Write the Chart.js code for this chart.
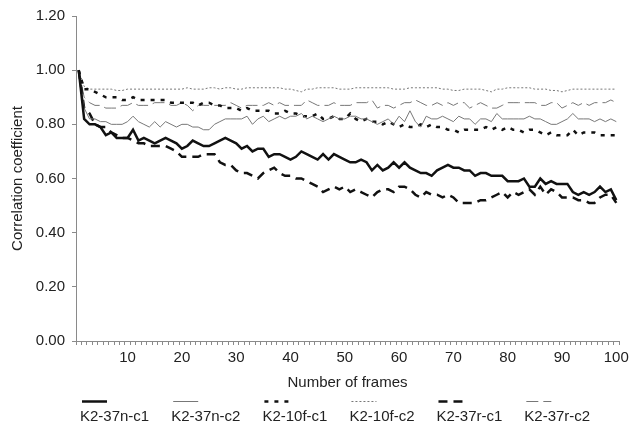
<!doctype html>
<html>
<head>
    <meta charset="UTF-8"/>
    <title>Correlation coefficient</title>
    <script src="https://cdn.jsdelivr.net/npm/chart.js@4.4.1/dist/chart.umd.min.js"></script>
</head>
<body style="margin: 0;">
<canvas id="myChart" width="640" height="427"></canvas>

<script>
    // frames 1..100
    const frames = Array.from({length: 100}, (v, i) => String(i + 1));

    const k2_37n_c1 = [1.00, 0.82, 0.80, 0.80, 0.79, 0.76, 0.77, 0.75, 0.75, 0.75,
        0.78, 0.74, 0.75, 0.74, 0.73, 0.74, 0.75, 0.74, 0.73, 0.71,
        0.72, 0.74, 0.73, 0.72, 0.72, 0.73, 0.74, 0.75, 0.74, 0.73,
        0.71, 0.72, 0.70, 0.71, 0.71, 0.68, 0.69, 0.69, 0.68, 0.67,
        0.68, 0.70, 0.69, 0.68, 0.67, 0.69, 0.67, 0.69, 0.68, 0.67,
        0.66, 0.66, 0.67, 0.66, 0.63, 0.65, 0.63, 0.64, 0.66, 0.64,
        0.66, 0.64, 0.63, 0.62, 0.62, 0.61, 0.63, 0.64, 0.65, 0.64,
        0.64, 0.63, 0.63, 0.61, 0.62, 0.62, 0.61, 0.61, 0.61, 0.59,
        0.59, 0.59, 0.60, 0.57, 0.57, 0.60, 0.58, 0.59, 0.58, 0.58,
        0.58, 0.55, 0.54, 0.55, 0.54, 0.55, 0.57, 0.55, 0.56, 0.52];

    const k2_37n_c2 = [1.00, 0.86, 0.82, 0.82, 0.81, 0.81, 0.80, 0.80, 0.80, 0.81,
        0.83, 0.81, 0.80, 0.79, 0.81, 0.79, 0.81, 0.80, 0.79, 0.80,
        0.80, 0.79, 0.79, 0.78, 0.78, 0.80, 0.81, 0.82, 0.82, 0.82,
        0.82, 0.83, 0.80, 0.82, 0.83, 0.81, 0.82, 0.83, 0.82, 0.83,
        0.83, 0.84, 0.82, 0.83, 0.82, 0.81, 0.82, 0.83, 0.82, 0.82,
        0.83, 0.83, 0.82, 0.82, 0.81, 0.80, 0.81, 0.82, 0.80, 0.83,
        0.81, 0.85, 0.81, 0.79, 0.83, 0.82, 0.82, 0.83, 0.82, 0.81,
        0.83, 0.82, 0.82, 0.80, 0.82, 0.82, 0.81, 0.84, 0.82, 0.82,
        0.82, 0.82, 0.82, 0.83, 0.82, 0.82, 0.81, 0.80, 0.80, 0.81,
        0.82, 0.84, 0.82, 0.82, 0.82, 0.81, 0.82, 0.81, 0.82, 0.81];

    const k2_10f_c1 = [1.00, 0.93, 0.93, 0.92, 0.91, 0.90, 0.90, 0.90, 0.89, 0.89,
        0.90, 0.89, 0.89, 0.89, 0.89, 0.89, 0.89, 0.88, 0.88, 0.88,
        0.88, 0.88, 0.87, 0.88, 0.88, 0.87, 0.87, 0.86, 0.86, 0.86,
        0.85, 0.86, 0.85, 0.85, 0.85, 0.85, 0.84, 0.84, 0.85, 0.84,
        0.84, 0.83, 0.83, 0.83, 0.84, 0.82, 0.82, 0.83, 0.82, 0.82,
        0.84, 0.82, 0.81, 0.82, 0.81, 0.81, 0.80, 0.81, 0.80, 0.79,
        0.80, 0.79, 0.79, 0.80, 0.79, 0.80, 0.79, 0.79, 0.78, 0.78,
        0.77, 0.78, 0.78, 0.78, 0.78, 0.79, 0.78, 0.79, 0.78, 0.79,
        0.78, 0.78, 0.77, 0.78, 0.78, 0.77, 0.76, 0.77, 0.76, 0.76,
        0.76, 0.78, 0.76, 0.77, 0.77, 0.77, 0.76, 0.76, 0.76, 0.76];

    const k2_10f_c2 = [1.00, 0.94, 0.93, 0.93, 0.93, 0.93, 0.93, 0.925, 0.925, 0.93,
        0.93, 0.93, 0.93, 0.93, 0.93, 0.93, 0.93, 0.93, 0.93, 0.93,
        0.935, 0.93, 0.93, 0.93, 0.935, 0.935, 0.93, 0.935, 0.935, 0.93,
        0.93, 0.935, 0.935, 0.935, 0.935, 0.935, 0.935, 0.935, 0.93, 0.93,
        0.925, 0.92, 0.93, 0.93, 0.935, 0.935, 0.935, 0.935, 0.93, 0.93,
        0.93, 0.935, 0.935, 0.935, 0.935, 0.935, 0.935, 0.935, 0.93, 0.93,
        0.93, 0.935, 0.935, 0.935, 0.935, 0.935, 0.935, 0.93, 0.93, 0.925,
        0.925, 0.93, 0.93, 0.93, 0.93, 0.925, 0.92, 0.93, 0.93, 0.935,
        0.935, 0.935, 0.935, 0.935, 0.93, 0.93, 0.93, 0.925, 0.925, 0.92,
        0.925, 0.93, 0.93, 0.93, 0.93, 0.93, 0.93, 0.93, 0.93, 0.93];

    const k2_37r_c1 = [1.00, 0.86, 0.84, 0.80, 0.79, 0.79, 0.77, 0.76, 0.75, 0.75,
        0.74, 0.73, 0.73, 0.72, 0.72, 0.72, 0.72, 0.71, 0.70, 0.68,
        0.68, 0.68, 0.68, 0.69, 0.69, 0.69, 0.66, 0.65, 0.65, 0.63,
        0.62, 0.62, 0.61, 0.60, 0.62, 0.63, 0.64, 0.62, 0.61, 0.61,
        0.60, 0.60, 0.59, 0.58, 0.57, 0.55, 0.56, 0.57, 0.56, 0.57,
        0.55, 0.56, 0.55, 0.54, 0.53, 0.55, 0.56, 0.56, 0.55, 0.57,
        0.57, 0.56, 0.54, 0.53, 0.55, 0.54, 0.54, 0.53, 0.54, 0.53,
        0.51, 0.51, 0.51, 0.51, 0.52, 0.52, 0.53, 0.54, 0.55, 0.53,
        0.55, 0.54, 0.55, 0.56, 0.54, 0.57, 0.54, 0.56, 0.55, 0.53,
        0.53, 0.53, 0.52, 0.52, 0.51, 0.51, 0.53, 0.54, 0.54, 0.51];

    const k2_37r_c2 = [1.00, 0.90, 0.88, 0.87, 0.87, 0.86, 0.86, 0.86, 0.87, 0.87,
        0.88, 0.87, 0.87, 0.87, 0.88, 0.88, 0.88, 0.87, 0.87, 0.88,
        0.87, 0.85, 0.87, 0.87, 0.87, 0.87, 0.87, 0.87, 0.88, 0.87,
        0.86, 0.87, 0.87, 0.87, 0.87, 0.88, 0.87, 0.88, 0.87, 0.87,
        0.87, 0.87, 0.89, 0.88, 0.87, 0.87, 0.87, 0.88, 0.87, 0.87,
        0.87, 0.88, 0.88, 0.88, 0.89, 0.86, 0.87, 0.87, 0.86, 0.87,
        0.88, 0.88, 0.89, 0.88, 0.87, 0.87, 0.88, 0.87, 0.88, 0.87,
        0.88, 0.88, 0.86, 0.87, 0.88, 0.87, 0.86, 0.86, 0.87, 0.88,
        0.88, 0.88, 0.88, 0.88, 0.88, 0.87, 0.87, 0.88, 0.88, 0.86,
        0.87, 0.88, 0.87, 0.88, 0.87, 0.88, 0.88, 0.88, 0.89, 0.88];

    const FONT = '"Liberation Sans", Arial, sans-serif';
    const AXIS = '#8a8a8a';

    // legend drawn below the axis title, sample line above each label
    const bottomLegend = {
        id: 'bottomLegend',
        afterDraw(chart) {
            const ctx = chart.ctx;
            ctx.save();
            ctx.font = '15px ' + FONT;
            ctx.textBaseline = 'middle';
            ctx.fillStyle = '#222';
            let x = 80;
            chart.data.datasets.forEach((ds) => {
                ctx.beginPath();
                ctx.setLineDash(ds.borderDash || []);
                ctx.lineWidth = ds.borderWidth;
                ctx.strokeStyle = ds.borderColor;
                ctx.moveTo(x + 2, 401.5);
                ctx.lineTo(x + 27, 401.5);
                ctx.stroke();
                ctx.setLineDash([]);
                ctx.fillText(ds.label, x, 417);
                x += ctx.measureText(ds.label).width + 22;
            });
            ctx.restore();
        }
    };

    var ctx = document.getElementById('myChart').getContext('2d');
    var myChart = new Chart(ctx, {
        type: 'line',
        data: {
            labels  : frames,
            datasets: [
                {label: 'K2-37n-c1', data: k2_37n_c1, borderColor: '#111', borderWidth: 2.5, borderDash: []},
                {label: 'K2-37n-c2', data: k2_37n_c2, borderColor: '#777', borderWidth: 1, borderDash: []},
                {label: 'K2-10f-c1', data: k2_10f_c1, borderColor: '#111', borderWidth: 2.5, borderDash: [4, 6]},
                {label: 'K2-10f-c2', data: k2_10f_c2, borderColor: '#777', borderWidth: 1, borderDash: [2, 2]},
                {label: 'K2-37r-c1', data: k2_37r_c1, borderColor: '#111', borderWidth: 2.5, borderDash: [9, 6]},
                {label: 'K2-37r-c2', data: k2_37r_c2, borderColor: '#777', borderWidth: 1, borderDash: [12, 5]}
            ]
        },
        options: {
            responsive: false,
            animation: false,
            layout: {padding: {top: 16, right: 21, bottom: 35, left: 0}},
            elements: {
                point: {radius: 0},
                line : {tension: 0, fill: false}
            },
            plugins: {
                legend : {display: false},
                tooltip: {enabled: false}
            },
            scales: {
                x: {
                    offset: true,
                    grid  : {offset: true, drawOnChartArea: false, tickLength: 4, color: AXIS},
                    border: {color: AXIS},
                    ticks : {
                        autoSkip: false, maxRotation: 0, padding: 4, color: '#222',
                        font: {family: FONT, size: 15},
                        callback: (v, i) => (i + 1) % 10 === 0 ? frames[i] : ''
                    },
                    title : {display: true, text: 'Number of frames', color: '#222',
                        font: {family: FONT, size: 15}, padding: {top: 0, bottom: 0}},
                    afterFit: (scale) => { scale.height = 51; }
                },
                y: {
                    min   : 0,
                    max   : 1.2,
                    grid  : {drawOnChartArea: false, tickLength: 4, color: AXIS},
                    border: {color: AXIS},
                    ticks : {
                        stepSize: 0.2, padding: 7, color: '#222',
                        font: {family: FONT, size: 15},
                        callback: (v) => v.toFixed(2)
                    },
                    title : {display: true, text: 'Correlation coefficient', color: '#222',
                        font: {family: FONT, size: 15}, padding: {top: 9, bottom: 0}},
                    afterFit: (scale) => { scale.width = 76; }
                }
            }
        },
        plugins: [bottomLegend]
    });
</script>
</body>
</html>
